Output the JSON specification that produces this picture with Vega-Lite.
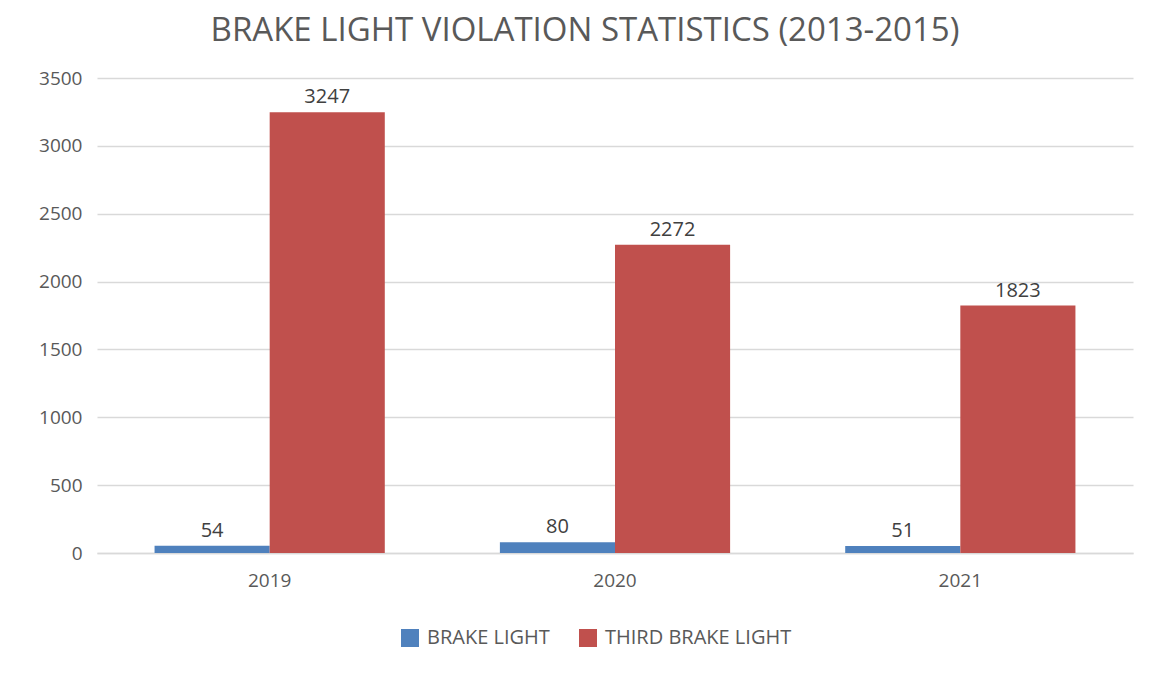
{
  "$schema": "https://vega.github.io/schema/vega-lite/v6.json",
  "width": 1036,
  "height": 475,
  "autosize": {"type": "none"},
  "padding": {"left": 97, "top": 78, "right": 20, "bottom": 122},
  "background": "white",
  "title": {
    "text": "BRAKE LIGHT VIOLATION STATISTICS (2013-2015)",
    "font": "Open Sans",
    "fontSize": 33,
    "fontWeight": "normal",
    "color": "#595959",
    "anchor": "middle",
    "dx": -30,
    "offset": 21
  },
  "data": {
    "values": [
      {"year": "2019", "series": "BRAKE LIGHT", "count": 54},
      {"year": "2019", "series": "THIRD BRAKE LIGHT", "count": 3247},
      {"year": "2020", "series": "BRAKE LIGHT", "count": 80},
      {"year": "2020", "series": "THIRD BRAKE LIGHT", "count": 2272},
      {"year": "2021", "series": "BRAKE LIGHT", "count": 51},
      {"year": "2021", "series": "THIRD BRAKE LIGHT", "count": 1823}
    ]
  },
  "encoding": {
    "x": {
      "field": "year",
      "type": "nominal",
      "scale": {"paddingInner": 0.3333, "paddingOuter": 0.1667},
      "axis": {
        "title": null,
        "labelAngle": 0,
        "labelFont": "Open Sans",
        "labelFontSize": 19,
        "labelColor": "#595959",
        "labelPadding": 18,
        "domain": true,
        "domainColor": "#d9d9d9",
        "domainWidth": 1.5,
        "ticks": false
      }
    },
    "xOffset": {
      "field": "series",
      "type": "nominal",
      "scale": {"paddingInner": 0, "paddingOuter": 0}
    },
    "y": {
      "field": "count",
      "type": "quantitative",
      "scale": {"domain": [0, 3500]},
      "axis": {
        "title": null,
        "format": "d",
        "values": [0, 500, 1000, 1500, 2000, 2500, 3000, 3500],
        "labelFont": "Open Sans",
        "labelFontSize": 19,
        "labelColor": "#595959",
        "labelPadding": 15,
        "domain": false,
        "ticks": false,
        "grid": true,
        "gridColor": "#d9d9d9",
        "gridWidth": 1.5
      }
    }
  },
  "layer": [
    {
      "mark": {"type": "bar"},
      "encoding": {
        "color": {
          "field": "series",
          "type": "nominal",
          "scale": {
            "domain": ["BRAKE LIGHT", "THIRD BRAKE LIGHT"],
            "range": ["#4f81bd", "#c0504d"]
          },
          "legend": {
            "title": null,
            "orient": "none",
            "direction": "horizontal",
            "legendX": 303,
            "legendY": 550,
            "symbolType": "square",
            "symbolSize": 324,
            "symbolStrokeWidth": 0,
            "labelFont": "Open Sans",
            "labelFontSize": 20,
            "labelColor": "#595959",
            "labelOffset": 7,
            "labelLimit": 400,
            "columnPadding": 28
          }
        }
      }
    },
    {
      "mark": {
        "type": "text",
        "baseline": "bottom",
        "dy": -5,
        "font": "Open Sans",
        "fontSize": 20,
        "color": "#404040"
      },
      "encoding": {
        "text": {"field": "count", "type": "quantitative", "format": "d"}
      }
    }
  ],
  "config": {
    "view": {"stroke": null}
  }
}
